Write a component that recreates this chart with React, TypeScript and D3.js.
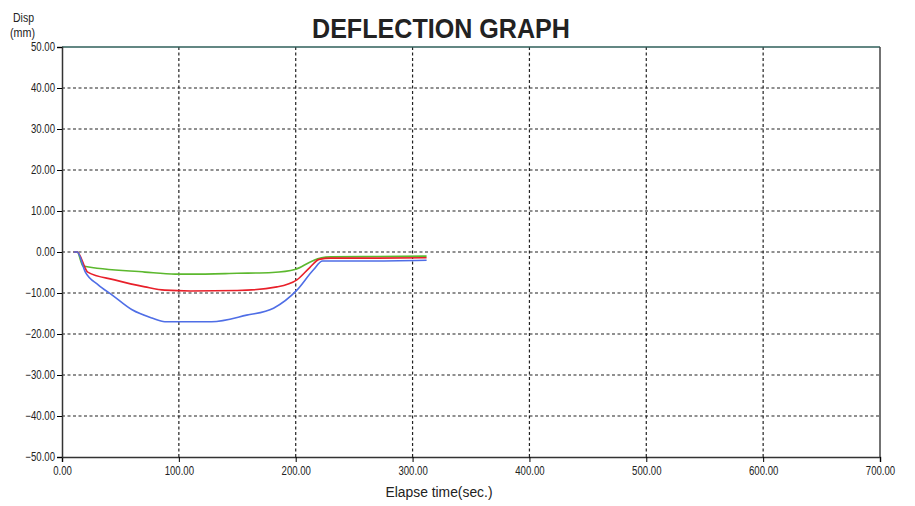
import { useRef, useEffect } from 'react';
import * as d3 from 'd3';

// elapse time (sec.) / displacement (mm)
const greenT = [10, 13, 18, 71, 97, 110, 150, 180, 200, 212, 222, 230, 270, 312];
const greenV = [0, 0, -3.4, -4.9, -5.4, -5.4, -5.2, -5.0, -4.2, -2.5, -1.4, -1.2, -1.1, -1.0];

const redT = [10, 13, 22, 45, 71, 88, 110, 150, 184, 201, 212, 220, 230, 270, 312];
const redV = [0, 0, -4.9, -6.8, -8.5, -9.3, -9.5, -9.4, -8.5, -6.8, -3.8, -1.8, -1.5, -1.5, -1.4];

const blueT = [10, 13, 20, 31, 43, 60, 77, 88, 110, 128, 158, 181, 201, 215, 223, 260, 312];
const blueV = [0, 0, -4.9, -8, -10.5, -14.1, -16.1, -17, -17, -17, -15.4, -13.7, -9.3, -4.4, -2.2, -2.2, -2.0];

const xTicks = [0, 100, 200, 300, 400, 500, 600, 700];
const yTicks = [50, 40, 30, 20, 10, 0, -10, -20, -30, -40, -50];

const series = [
    { t: greenT, v: greenV, color: '#5cb82e' },
    { t: redT, v: redV, color: '#e8202a' },
    { t: blueT, v: blueV, color: '#4f6ee6' },
];

// squeeze text horizontally, the original uses a narrow face
function squeeze(sel: any, k: number) {
    sel.each(function (this: SVGTextElement) {
        const w = this.getComputedTextLength();
        d3.select(this).attr('textLength', w * k).attr('lengthAdjust', 'spacingAndGlyphs');
    });
}

function App() {
    const ref = useRef<SVGSVGElement>(null);

    useEffect(() => {
        d3.select(ref.current).selectAll('*').remove();
        const svg = d3.select(ref.current);
        const left = 62, right = 880, top = 47, bottom = 457;
        const font = "'Liberation Sans', Arial, sans-serif";

        const x = d3.scaleLinear().domain([0, 700]).range([left, right]);
        const y = d3.scaleLinear().domain([-50, 50]).range([bottom, top]);

        // grid
        const grid = svg.append('g')
            .attr('stroke', '#222')
            .attr('stroke-width', 1.2)
            .attr('stroke-dasharray', '3,2.5');
        grid.selectAll('.gx')
            .data(xTicks.slice(1, -1))
            .enter().append('line')
            .attr('x1', d => x(d)).attr('x2', d => x(d))
            .attr('y1', top).attr('y2', bottom);
        grid.selectAll('.gy')
            .data(yTicks.slice(1, -1))
            .enter().append('line')
            .attr('x1', left).attr('x2', right)
            .attr('y1', d => y(d)).attr('y2', d => y(d));

        // frame
        svg.append('line').attr('x1', left).attr('x2', right).attr('y1', top).attr('y2', top)
            .attr('stroke', '#2f5f5a').attr('stroke-width', 1.5);
        svg.append('line').attr('x1', right).attr('x2', right).attr('y1', top).attr('y2', bottom)
            .attr('stroke', '#444').attr('stroke-width', 1.5);

        // axes
        svg.append('g')
            .attr('transform', `translate(0,${bottom})`)
            .call(d3.axisBottom(x).tickValues(xTicks).tickSize(5).tickFormat(d3.format('.2f')))
            .call(g => g.select('.domain').attr('stroke', '#333').attr('stroke-width', 1.5))
            .call(g => g.selectAll('text').attr('font-family', font).attr('font-size', 12)
                .attr('fill', '#222').attr('dy', '0.85em'))
            .call(g => squeeze(g.selectAll('text'), 0.8));

        svg.append('g')
            .attr('transform', `translate(${left},0)`)
            .call(d3.axisLeft(y).tickValues(yTicks).tickSize(5).tickFormat(d3.format('.2f')))
            .call(g => g.select('.domain').attr('stroke', '#333').attr('stroke-width', 1.5))
            .call(g => g.selectAll('text').attr('font-family', font).attr('font-size', 12)
                .attr('fill', '#222').attr('x', -7))
            .call(g => squeeze(g.selectAll('text'), 0.8));

        // curves
        const line = d3.line<[number, number]>()
            .x(d => x(d[0])).y(d => y(d[1]))
            .curve(d3.curveMonotoneX);
        series.forEach(s => {
            svg.append('path')
                .datum(s.t.map((t, i) => [t, s.v[i]] as [number, number]))
                .attr('fill', 'none')
                .attr('stroke', s.color)
                .attr('stroke-width', 1.6)
                .attr('d', line);
        });

        // titles
        svg.append('text')
            .attr('x', 441).attr('y', 38)
            .attr('text-anchor', 'middle')
            .attr('font-family', font)
            .attr('font-weight', 'bold')
            .attr('font-size', 27)
            .attr('fill', '#222')
            .attr('textLength', 258)
            .attr('lengthAdjust', 'spacingAndGlyphs')
            .text('DEFLECTION GRAPH');

        svg.append('text')
            .attr('x', 439).attr('y', 497)
            .attr('text-anchor', 'middle')
            .attr('font-family', font)
            .attr('font-size', 14)
            .attr('fill', '#222')
            .attr('textLength', 107)
            .attr('lengthAdjust', 'spacingAndGlyphs')
            .text('Elapse time(sec.)');

        svg.append('text')
            .attr('x', 13).attr('y', 22)
            .attr('font-family', font).attr('font-size', 13).attr('fill', '#222')
            .attr('textLength', 21).attr('lengthAdjust', 'spacingAndGlyphs')
            .text('Disp');
        svg.append('text')
            .attr('x', 10).attr('y', 37)
            .attr('font-family', font).attr('font-size', 12).attr('fill', '#222')
            .attr('textLength', 25).attr('lengthAdjust', 'spacingAndGlyphs')
            .text('(mm)');
    }, []);

    return (
        <svg ref={ref} width={915} height={506}
            style={{ position: 'absolute', left: 0, top: 0, background: '#fff' }} />
    );
}

export default App;
